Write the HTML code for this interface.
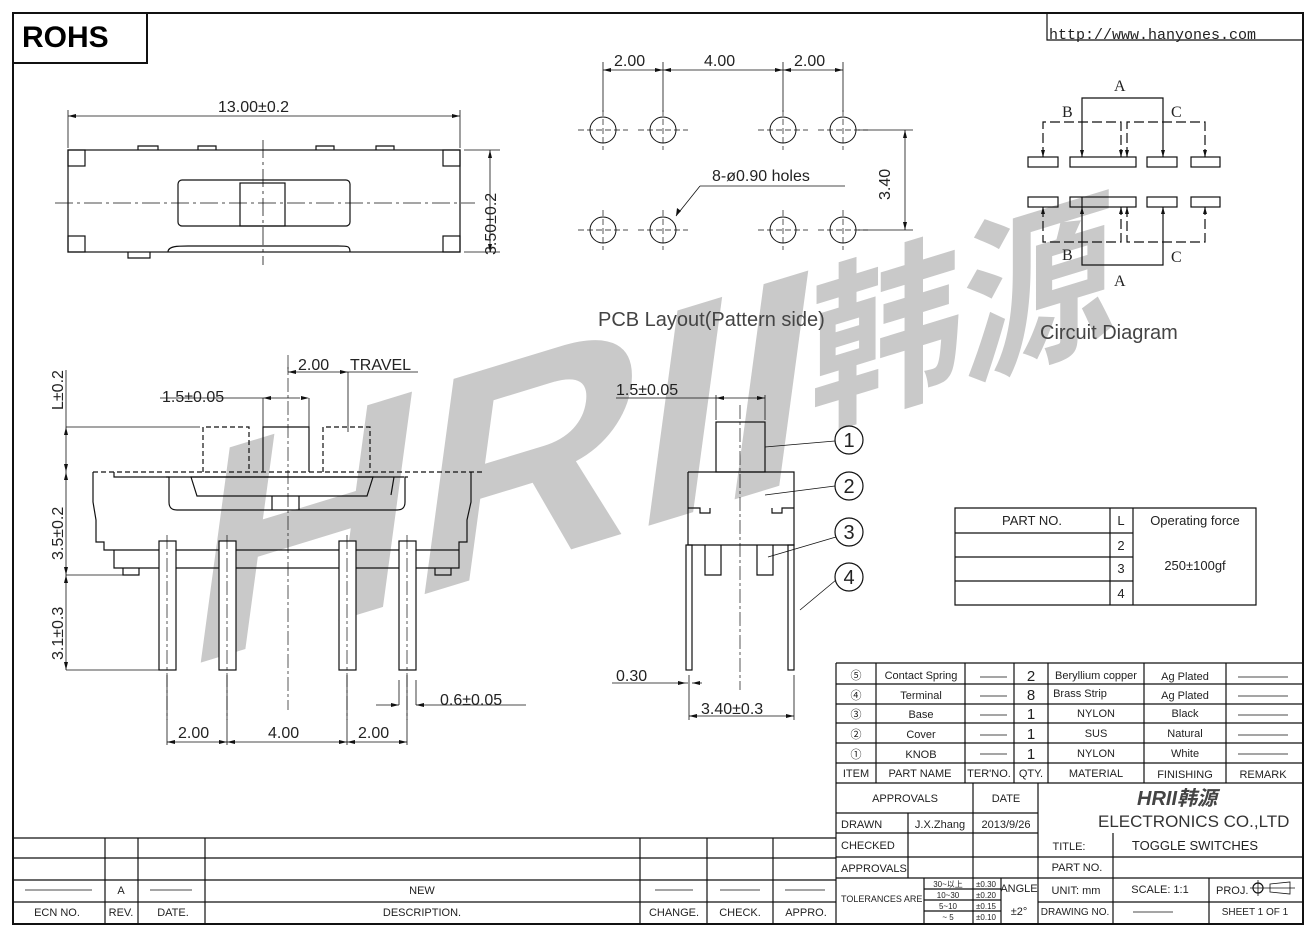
<!DOCTYPE html>
<html><head><meta charset="utf-8"><style>
html,body{margin:0;padding:0;background:#fff;}
svg{display:block;}
text{font-family:"Liberation Sans","Noto Sans CJK SC",sans-serif;fill:#222;}
</style></head><body>
<svg width="1316" height="934" viewBox="0 0 1316 934" xmlns="http://www.w3.org/2000/svg">
<!-- watermark -->
<g transform="skewY(-17)">
<g transform="translate(180,724) skewX(-8)">
<text x="0" y="0" font-size="300" font-weight="bold" textLength="620" lengthAdjust="spacingAndGlyphs" style="fill:#c9c9c9">HRII</text>
</g>
<text x="810" y="670" font-size="178" font-weight="bold" textLength="305" lengthAdjust="spacingAndGlyphs" style="fill:#c9c9c9;font-family:'Noto Sans CJK SC',sans-serif">韩源</text>
</g>
<g fill="none" stroke="#111" stroke-width="1.2">
<!-- frame -->
<rect x="13" y="13" width="1290" height="911" stroke-width="2"/>
<rect x="13" y="13" width="134" height="50" stroke-width="2"/>
<polyline points="1047,13 1047,40 1303,40"/>
<!-- top view -->
<rect x="68" y="150" width="392" height="102"/>
<rect x="68" y="150" width="17" height="16"/><rect x="443" y="150" width="17" height="16"/>
<rect x="68" y="236" width="17" height="16"/><rect x="443" y="236" width="17" height="16"/>
<rect x="178" y="180" width="172" height="46" rx="4"/>
<rect x="240" y="183" width="45" height="43"/>
<path d="M138 150v-4h20v4M198 150v-4h18v4M316 150v-4h18v4M376 150v-4h18v4"/>
<path d="M128 252v6h22v-6M168 252c0-6 10-6 20-6h150c10 0 12 0 12 6"/>
<line x1="55" y1="203" x2="475" y2="203" stroke-dasharray="18,4,3,4" stroke-width="0.8"/>
<line x1="263" y1="140" x2="263" y2="265" stroke-dasharray="18,4,3,4" stroke-width="0.8"/>
<path d="M68 148V110M460 148V110M68 116H460M464 150H500M464 252H500M490 150V252" stroke-width="0.8"/>
<!-- PCB -->
<g stroke-width="1">
<circle cx="603" cy="130" r="13"/><circle cx="663" cy="130" r="13"/><circle cx="783" cy="130" r="13"/><circle cx="843" cy="130" r="13"/>
<circle cx="603" cy="230" r="13"/><circle cx="663" cy="230" r="13"/><circle cx="783" cy="230" r="13"/><circle cx="843" cy="230" r="13"/>
</g>
<g stroke-width="0.7" stroke-dasharray="6,3">
<path d="M578 130h50M638 130h50M758 130h50M818 130h50M578 230h50M638 230h50M758 230h50M818 230h50"/>
<path d="M603 110v40M663 110v40M783 110v40M843 110v40M603 210v40M663 210v40M783 210v40M843 210v40"/>
</g>
<path d="M603 62v50M663 62v50M783 62v50M843 62v50M603 70H843M858 130h55M858 230h55M905 130v100M700 186L676 216M700 186H845" stroke-width="0.8"/>
<!-- circuit -->
<rect x="1028" y="157" width="30" height="10"/><rect x="1070" y="157" width="66" height="10"/><rect x="1147" y="157" width="30" height="10"/><rect x="1191" y="157" width="29" height="10"/>
<rect x="1028" y="197" width="30" height="10"/><rect x="1070" y="197" width="66" height="10"/><rect x="1147" y="197" width="30" height="10"/><rect x="1191" y="197" width="29" height="10"/>
<path d="M1082 157V98H1163V157M1082 197V265H1163V207"/>
<path d="M1043 157V122H1121V157M1127 157V122H1205V157M1043 207V242H1121V207M1127 207V242H1205V207" stroke-dasharray="10,4"/>
<!-- side view -->
<path d="M93 472H482M203 472v-45h46v45M323 472v-45h47v45" stroke-dasharray="5,3"/>
<path d="M263 472v-45h46v45"/>
<path d="M93 472v30l3 18v22h8v8h355v-8h8v-22l4-18v-30M114 550v18h345v-18"/>
<path d="M114 472v5h290M404 477h-10l-3 18"/>
<path d="M166 477h3v25c0 6 3 8 8 8h220c5 0 8-2 8-8v-25h3"/>
<path d="M191 477l6 19h170l6-19z"/>
<path d="M272 496v14M299 496v14"/>
<path d="M123 568v7h16v-7M435 568v7h16v-7"/>
<g fill="#fff"><rect x="159" y="541" width="17" height="129"/><rect x="219" y="541" width="17" height="129"/><rect x="339" y="541" width="17" height="129"/><rect x="399" y="541" width="17" height="129"/></g>
<path d="M288 355v355M167 535v185M227 535v185M347 535v185M407 535v185" stroke-dasharray="14,3,3,3" stroke-width="0.7"/>
<path d="M66 370v300M66 427H200M66 575h60M66 670h93M160 398H300M263 398v29M309 398v29M288 372v-5M348 372v60M288 372H348M348 372H418M167 675v70M227 675v70M347 675v70M407 675v70M167 742H407M399 680v25M416 680v25M376 705h23M416 705h110" stroke-width="0.8"/>
<!-- front view -->
<rect x="716" y="422" width="49" height="50"/>
<path d="M740 405v285" stroke-dasharray="14,3,3,3" stroke-width="0.7"/>
<path d="M688 472h106v36h-12v5h-10v-5M688 472v36h12v5h10v-5M688 508v37h106v-37"/>
<path d="M705 545v30h16v-30M757 545v30h16v-30"/>
<rect x="686" y="545" width="6" height="125"/><rect x="788" y="545" width="6" height="125"/>
<path d="M716 420v-25M765 420v-25M616 398H765M689 675v45M794 675v45M689 716H794M612 683h76M692 683h10M765 447l70-6M765 495l70-9M768 557l68-20M800 610l36-30" stroke-width="0.8"/>
<circle cx="849" cy="440" r="14"/><circle cx="849" cy="486" r="14"/><circle cx="849" cy="532" r="14"/><circle cx="849" cy="577" r="14"/>
<!-- part table -->
<path d="M955 508H1256V605H955ZM955 533H1133M955 557H1133M955 581H1133M1110 508V605M1133 508V605"/>
<!-- bottom right table -->
<path d="M836 663H1303M836 684H1303M836 704H1303M836 723H1303M836 743H1303M836 763H1303M836 783H1303M836 813H1038M836 833H1038M836 857H1303M836 878H1303"/>
<path d="M836 663V925M876 663V783M965 663V783M1014 663V783M1048 663V783M1144 663V783M1226 663V783"/>
<path d="M908 813V878M973 783V925M1038 783V925M1113 833V925M1209 878V925M924 878V925M1001 878V925M1038 902H1303M924 889H1001M924 900H1001M924 911H1001"/>
<!-- bottom left table -->
<path d="M13 838H836M13 858H836M13 880H836M13 902H836M105 838V925M138 838V925M205 838V925M640 838V925M707 838V925M773 838V925"/>
<path d="M25 890H92M150 890H192M655 890H693M720 890H760M785 890H825M980 677h27M980 696h27M980 715h27M980 735h27M980 754h27M1238 677h50M1238 696h50M1238 715h50M1238 735h50M1238 754h50M1133 912h40" stroke-width="0.8"/>
<circle cx="1258" cy="888" r="5"/><path d="M1250 888h45M1258 880v16M1270 884l20-2v12l-20-2z" stroke-width="0.8"/>
</g>
<!-- arrows -->
<g fill="#111">
<path d="M68 116l8-2v4zM460 116l-8-2v4zM490 150l-2 8h4zM490 252l-2-8h4zM603 70l8-2v4zM663 70l-8-2v4zM663 70l8-2v4zM783 70l-8-2v4zM783 70l8-2v4zM843 70l-8-2v4zM905 130l-2 8h4zM905 230l-2-8h4zM676 216l1-8 4 3z"/>
<path d="M1043 157l-2-7h4zM1082 157l-2-7h4zM1121 157l-2-7h4zM1127 157l-2-7h4zM1163 157l-2-7h4zM1205 157l-2-7h4zM1043 207l-2 7h4zM1082 207l-2 7h4zM1121 207l-2 7h4zM1127 207l-2 7h4zM1163 207l-2 7h4zM1205 207l-2 7h4z"/>
<path d="M66 427l-2 8h4zM66 472l-2-8h4zM66 472l-2 8h4zM66 575l-2-8h4zM66 575l-2 8h4zM66 670l-2-8h4zM263 398l8-2v4zM309 398l-8-2v4zM288 372l8-2v4zM348 372l-8-2v4zM167 742l8-2v4zM227 742l-8-2v4zM227 742l8-2v4zM347 742l-8-2v4zM347 742l8-2v4zM407 742l-8-2v4zM399 705l-8-2v4zM416 705l8-2v4z"/>
<path d="M716 398l8-2v4zM765 398l-8-2v4zM689 716l8-2v4zM794 716l-8-2v4zM686 683l-8-2v4zM692 683l8-2v4z"/>
</g>
<!-- texts -->
<text x="22" y="47" font-size="30" font-weight="bold" style="fill:#000">ROHS</text>
<text x="1049" y="39" font-size="15" style="font-family:'Liberation Mono',monospace">http://www.hanyones.com</text>
<g font-size="16" style="fill:#333">
<text x="218" y="112">13.00±0.2</text>
<text transform="translate(496,255) rotate(-90)">3.50±0.2</text>
<text x="614" y="66">2.00</text><text x="704" y="66">4.00</text><text x="794" y="66">2.00</text>
<text x="712" y="181">8-ø0.90 holes</text>
<text transform="translate(890,200) rotate(-90)">3.40</text>
<text x="298" y="370">2.00</text><text x="350" y="370">TRAVEL</text>
<text x="162" y="402">1.5±0.05</text>
<text transform="translate(63,410) rotate(-90)">L±0.2</text>
<text transform="translate(63,560) rotate(-90)">3.5±0.2</text>
<text transform="translate(63,660) rotate(-90)">3.1±0.3</text>
<text x="178" y="738">2.00</text><text x="268" y="738">4.00</text><text x="358" y="738">2.00</text>
<text x="440" y="705">0.6±0.05</text>
<text x="616" y="395">1.5±0.05</text>
<text x="616" y="681">0.30</text>
<text x="701" y="714">3.40±0.3</text>
<text x="1114" y="91" style="font-family:'Liberation Serif',serif">A</text>
<text x="1062" y="117" style="font-family:'Liberation Serif',serif">B</text>
<text x="1171" y="117" style="font-family:'Liberation Serif',serif">C</text>
<text x="1062" y="260" style="font-family:'Liberation Serif',serif">B</text>
<text x="1171" y="262" style="font-family:'Liberation Serif',serif">C</text>
<text x="1114" y="286" style="font-family:'Liberation Serif',serif">A</text>
</g>
<text x="598" y="326" font-size="20" style="fill:#444">PCB Layout(Pattern side)</text>
<text x="1040" y="339" font-size="20" style="fill:#444">Circuit Diagram</text>
<g font-size="20" text-anchor="middle"><text x="849" y="447">1</text><text x="849" y="493">2</text><text x="849" y="539">3</text><text x="849" y="584">4</text></g>
<g font-size="13" text-anchor="middle">
<text x="1032" y="525">PART NO.</text><text x="1121" y="525">L</text><text x="1195" y="525">Operating force</text>
<text x="1121" y="550">2</text><text x="1121" y="573">3</text><text x="1121" y="598">4</text>
<text x="1195" y="570">250±100gf</text>
</g>
<g font-size="11" text-anchor="middle">
<text x="856" y="679">⑤</text><text x="856" y="699">④</text><text x="856" y="718">③</text><text x="856" y="738">②</text><text x="856" y="758">①</text>
<text x="921" y="679">Contact Spring</text><text x="921" y="699">Terminal</text><text x="921" y="718">Base</text><text x="921" y="738">Cover</text><text x="921" y="758">KNOB</text>
<text x="1031" y="681" font-size="15">2</text><text x="1031" y="700" font-size="15">8</text><text x="1031" y="719" font-size="15">1</text><text x="1031" y="739" font-size="15">1</text><text x="1031" y="759" font-size="15">1</text>
<text x="1096" y="679">Beryllium copper</text><text x="1080" y="697">Brass Strip</text><text x="1096" y="717">NYLON</text><text x="1096" y="737">SUS</text><text x="1096" y="757">NYLON</text>
<text x="1185" y="680">Ag Plated</text><text x="1185" y="699">Ag Plated</text><text x="1185" y="717">Black</text><text x="1185" y="737">Natural</text><text x="1185" y="757">White</text>
<text x="856" y="777">ITEM</text><text x="920" y="777">PART NAME</text><text x="989" y="777">TER'NO.</text><text x="1031" y="777">QTY.</text><text x="1096" y="777">MATERIAL</text><text x="1185" y="778">FINISHING</text><text x="1263" y="778">REMARK</text>
<text x="905" y="802">APPROVALS</text><text x="1006" y="802">DATE</text>
<text x="1006" y="828">2013/9/26</text><text x="940" y="828">J.X.Zhang</text>
<text x="1069" y="850">TITLE:</text><text x="1195" y="850" font-size="13">TOGGLE SWITCHES</text>
<text x="1077" y="871">PART NO.</text>
<text x="1019" y="892">ANGLE</text><text x="1019" y="915">±2°</text>
<text x="1076" y="894">UNIT: mm</text><text x="1160" y="893">SCALE:  1:1</text>
<text x="1075" y="915" font-size="10">DRAWING NO.</text><text x="1255" y="915" font-size="10">SHEET  1 OF 1</text>
<text x="57" y="916">ECN NO.</text><text x="121" y="916">REV.</text><text x="173" y="916">DATE.</text><text x="422" y="916">DESCRIPTION.</text><text x="674" y="916">CHANGE.</text><text x="740" y="916">CHECK.</text><text x="806" y="916">APPRO.</text>
<text x="121" y="894">A</text><text x="422" y="894">NEW</text>
</g>
<g font-size="11">
<text x="841" y="828">DRAWN</text><text x="841" y="849">CHECKED</text><text x="841" y="872">APPROVALS</text>
<text x="841" y="902" font-size="9">TOLERANCES ARE</text>
<text x="1216" y="894">PROJ.</text>
</g>
<g font-size="8" text-anchor="middle"><text x="948" y="887">30~以上</text><text x="948" y="898">10~30</text><text x="948" y="909">5~10</text><text x="948" y="920">~ 5</text>
<text x="986" y="887">±0.30</text><text x="986" y="898">±0.20</text><text x="986" y="909">±0.15</text><text x="986" y="920">±0.10</text></g>
<text x="1137" y="805" font-size="20" font-weight="bold" font-style="italic" style="fill:#444">HRII韩源</text>
<text x="1098" y="827" font-size="17" style="fill:#333">ELECTRONICS  CO.,LTD</text>
</svg>
</body></html>
